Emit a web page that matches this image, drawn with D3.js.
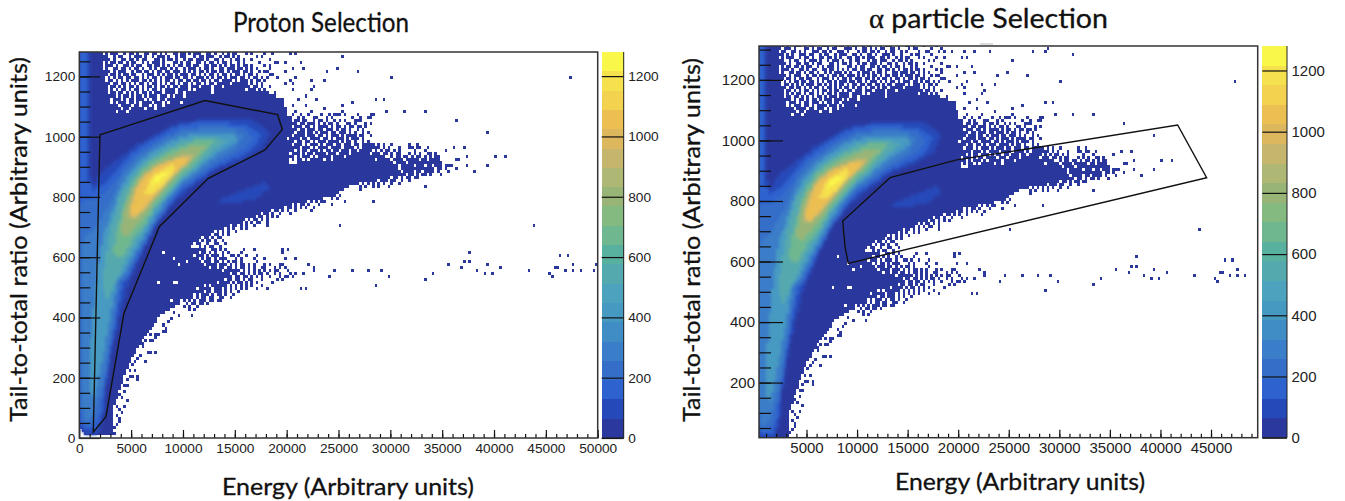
<!DOCTYPE html>
<html><head><meta charset="utf-8">
<script src="https://cdn.jsdelivr.net/npm/d3@7"></script>
<style>html,body{margin:0;background:#fff}svg{display:block}</style></head>
<body><svg id="c" width="1345" height="501"></svg>
<script>
// ---- colour bar bands (0..1280 in 64-wide steps)
const bandColors=["#2b389d","#2549b9","#2d62cf","#356ec8","#3a7dc8","#408cc5","#469ac2","#4da3bd","#54a9ae","#58b09f","#6fb78f","#84ba80","#98b577","#aeb773","#c6b56c","#dcb75e","#ecbf52","#f3d24f","#f5e04d","#f9f84a"];
const colorTicks=[0,200,400,600,800,1000,1200];
const energyTicksLeft=[0,5000,10000,15000,20000,25000,30000,35000,40000,45000,50000];
const energyTicksRight=[5000,10000,15000,20000,25000,30000,35000,40000,45000];
// ---- count contours: [energy, ratio]
const outline=[[0,40],[0,1320],[2200,1320],[2300,1240],[2500,1200],[2750,1160],[3000,1120],[3250,1095],[3500,1083],[6800,1088],[10350,1116],[12300,1122],[14850,1144],[17400,1155],[19700,1127],[20000,1088],[20300,1044],[20000,1011],[20000,934],[20250,912],[22000,918],[25000,925],[27000,922],[29000,918],[30500,908],[30800,885],[29000,862],[27500,850],[26000,835],[24320,800],[20490,775],[17400,745],[13000,685],[11500,660],[10500,640],[11000,620],[11400,570],[12900,540],[12600,510],[11600,513],[10350,458],[7780,403],[6500,347],[5500,292],[4730,237],[4080,181],[3440,126],[3120,71],[3300,15],[400,15]];
const level64=[[0,40],[0,1320],[1000,1320],[1000,880],[1400,840],[2150,884],[3000,905],[5200,967],[7500,1011],[9700,1050],[13250,1061],[16800,1055],[18400,1017],[17750,967],[16000,930],[13250,890],[11500,850],[9700,800],[8500,750],[7500,710],[6500,646],[5530,569],[4730,513],[3920,403],[3280,314],[2640,181],[2310,71],[1830,15],[400,15]];
const level64b=[[13500,790],[15500,820],[17800,850],[18400,830],[17000,795],[15000,780],[13800,775]];
const level128=[[50,60],[50,1320],[800,1320],[800,860],[1400,820],[2300,840],[3000,870],[4000,905],[5200,950],[6200,975],[7500,1000],[9700,1040],[11500,1048],[13250,1050],[16000,1040],[17600,1010],[17000,970],[16000,945],[13250,900],[11500,860],[9700,815],[8500,760],[7500,715],[6200,630],[5300,570],[4700,530],[4300,513],[3700,420],[3150,314],[2550,181],[2100,71],[1700,30],[500,30]];
const level192=[[100,90],[100,780],[900,790],[1600,790],[2300,810],[3000,830],[4000,880],[5200,930],[6200,960],[7500,985],[9700,1025],[11500,1035],[13250,1040],[16000,1025],[16800,995],[16000,965],[13250,910],[11500,870],[9700,825],[8500,770],[7500,720],[6200,640],[5200,580],[4600,530],[4000,513],[3500,410],[3050,314],[2450,181],[1800,71],[1300,45],[400,45]];
const level256=[[150,150],[150,640],[800,680],[1500,690],[2200,740],[3000,780],[4000,860],[5200,915],[6200,945],[7500,975],[9700,1015],[11500,1025],[13250,1030],[15000,1025],[15800,1000],[15200,965],[13250,925],[11500,880],[9700,835],[8500,780],[7500,730],[6200,650],[5200,590],[4500,540],[3800,513],[3300,400],[2900,314],[2250,181],[1300,71],[600,60]];
const level384=[[900,237],[1300,403],[1800,560],[2200,660],[3000,735],[4000,835],[5200,895],[6200,930],[7500,960],[9700,1000],[11500,1010],[13250,1015],[15000,1005],[15300,985],[13250,945],[11500,895],[9700,845],[8500,795],[7500,745],[6200,665],[5200,610],[4500,560],[3500,513],[3000,400],[2500,314],[1700,181],[1200,120]];
const level512=[[2200,510],[2500,600],[3000,690],[4000,810],[5200,875],[6200,915],[7500,945],[9700,985],[11500,1000],[13250,1000],[14200,985],[13000,955],[11500,905],[9700,855],[8500,805],[7500,765],[6200,685],[5200,635],[4500,590],[3700,530],[3100,490],[2700,450]];
const level640=[[3300,620],[3700,700],[4500,800],[5200,855],[6200,900],[7500,930],[9700,970],[11500,990],[13000,990],[12000,940],[11000,905],[9700,865],[8500,815],[7500,780],[6200,700],[5200,660],[4300,610],[3700,590]];
const level768=[[4000,690],[4500,780],[5200,835],[6200,885],[7500,915],[9700,955],[11500,975],[12300,970],[11500,945],[9700,880],[8500,830],[7500,795],[6200,730],[5200,695],[4500,660]];
const level896=[[4600,730],[5200,815],[6000,870],[7500,905],[9700,935],[11000,945],[10700,920],[9700,890],[8500,845],[7500,810],[6200,755],[5200,725]];
const level1024=[[5000,740],[5200,800],[6000,860],[7500,900],[9700,930],[10600,930],[9700,895],[8500,855],[7500,820],[6200,765],[5500,730]];
const level1152=[[6300,815],[6800,855],[7500,882],[8800,908],[9300,900],[8800,868],[7800,832],[6900,805]];
const level1248=[[6900,840],[7400,868],[8200,885],[8400,875],[7600,848]];
// ---- sparse bins; '#' = occupied bin (250 energy x 10 ratio)
const speckleTop=[
"##.#..###.#.##...###..#.##.#.##..#.##...#.###..#..##.#...#....#.......",
"#.###.#...##.#.##..#.##...###.#..##.#.#.##..##.#...#.##.....#...#.....",
".##..##.#.#..###.##.#..###.#...#.##.##.#..#.##..#.#....#...#.....#....",
"##.#.#..###.##..#.##..#.###..##.#..##.#..###.#..#...#.##....#.........",
".#.###..#.##.#..##.##.#.#..##.##.#.###..##.#..#.#.##...#.#....#..#....",
"##..#.##..#.###.#..#.###.#..#.##...#.##.###..#.##.#.#......#..........",
"###.#..##.##.#.##...##.#.##.#..#.##.###.#..##.#..#.##.#..#......#.....",
".#.##.##.#.##..#.#.###.#...##.#.##..##.#.##.#.##.#..#.#.....#.....#...",
".###.#..##.#.##..##.##.#.#.#.##.##.##..##.##.#.#.##.#.##.#......#.....",
".#..##.##.#.##.#..#.#.###.#.#..#.###.#.##.#..##.###.##.#.#.#....#.....",
".##.#.###..#.##.##.#.##.##.###.#.#.#.##.#.##.##.#.###.##.#..#.#.......#",
".#.##.#.##.##..#.###.#.#.##.#.###.##.#.#.##.#.##.#.##.#.##.#....#.....",
"..#.#.##.##.##.#.#.##.#.###.##.##.#.###.#.#.##.#.###.##.#.##.#.#......",
"..##.#.#.#.###.##.#.#.#.##.#.##.##.##.##.#.##.####.#.###.#.##.#.......",
"..#.##.##.#.#.##.#.##.#.#.##.#.##.#.##.#.##.#####.######.#.#.#........",
"...##.#.#.##.#.#.##.#.##.#.##.###.###.####.###.##########.##.#..#.....",
"...#.#.##.#.##.#.#.##.#.####.####.#.######.############.###.#.#.......",
"...##.##.#.#.#.##.#.###.####.##.##########.###########.####.#.#...#...",
"...##.#.##.#.##.#.###.###.#.###.###########################.##........",
"....###.#.##.###.#.##.##.############################.###.#.#.........",
"....#.###.##.#.####.###.#.####.###.###################..###.#.........",
"....##.####.##.###.#.##.#########.############################.#......",
"....###.##.#####.###.###.####.####.###########",
"....#.###.#.###.###.##.#####.#####.###"];
const speckleMid=[
"..#.....#....#..#...#.#....#..",
".#..#.#...##...#.#.......#..#..#",
"##.##.##..#.##.#..#.#.#...#.#..",
".###.##.###.#.#.##.#...##.#...#.",
"##.###.##.#.####.#.##.#..#.##.#..",
".###.##.###.##.###.#.##.#..#.#",
"###.###.##.#.###.##.###.#.#..#.#..",
"##.####.###.##.#.###.#.##.#.#...#",
".####.##.####.##.#.###.#.##..#..",
"###.##.##.#.###.####.#.##.#..#.#",
"##.###.#.###.#.###.##.###.##.#.#.#",
"#####.###.#.####.####.####.#.##..#.#",
"###.#.##.###.#.##.##.###.##.#####.#",
"#.###.#.##.####.###.####.#####.#.###",
"###.#.###.#.#####.####.#######.####.",
"#.#.##.#.#####.##.##############.#.##"];
const speckleTail=[
"..#.#..#.#.........#..#",
"...##.#..#.#...#....#.##..#",
".#.##.#.#.##.#.#.........#......",
"#.##.#.#.##.#.##...#.#.#..##.#..",
".##..#.###..#.##.##.#.##.#.#.##.",
"##.###.#.###.####.#####.##.####.",
"#############.####.#############",
"###############.#####.###.##.###",
"###############.#############.##",
"################.####.##.####.#",
"#.################.##.#.##.#...#",
"###.##.#####.##.#.##.##",
"#.#.###.###.##..#..#",
".#.#.#.#.#..#..#",
"#.#..#.#...#....",
"#........"];
const speckleAlphaEdge=[
"........................................................#.##..#.#",
"................................................#.##.#.#.#...#.#",
"............................................#.##.#.#.#.#.##",
"..........................................#..#.#.##.#...#....#",
"........................................#.#.##.#.#.#..#",
"...................................#.#.##.#.#..#.....#",
".................................#.##.#..#...#",
".............................#.#.##.#.#.#",
"...........................#.#.##.#.#",
".......................#.##.#.#.##..#....",
".....................#.##.#.#..#....#.",
"................#.##.#.#..#.#",
"...............#.#.#.#..#",
"............#.#.##.#.#",
"..........#.##.#.##..",
".........#.#.##.#..#",
".......#.##..#..##..#..",
"......#...#.#.##..#",
"......##.#.#...##."];
const speckleLower=[
".#.##.#.#..##.#.#......#...#..........#",
"##.###.##.#.#..#.#....#...............#",
".###.###.#.###.#..##.#..#...#",
"######.#.##.#.###...#.#....#...#...........#",
"#.#####.###.##.#.#.##.#.....#",
"####.###.####.###.#.#.##.#.#...#.#...#",
"##########.##.##.##.#.##.#.#..##...#.#.#",
"###############.######.#.#.#.#.#.#.##...#",
"###.##############.##.##.#.#.##.#..#.#...#.#",
"###################.##.##.#.#.#..#...#.#",
"################.##.##.#.##...#.....#..",
"#############.####.#.##.#.#.#",
"########.#.######.#.#.#.#.#...#",
"#####.#####.###.#.#.#.#.#...#",
"##.#####.##.###.#.#..#",
"####.#.###.#.##.#..#",
".###.#.##.##..#",
"#.#.#.###.#..#..",
".#.##.#..#",
"#.#..#...",
"..#.#"];
const isolated=[[25460,1265],[26880,1215],[30060,1195],[47260,1195],[28680,1125],[29260,1125],[26270,1115],[25460,1105],[25460,1085],[29680,1085],[31480,1085],[33280,1085],[28070,1075],[28460,1075],[28070,1065],[26430,1065],[26750,1055],[36270,1055],[28070,1045],[26100,1035],[26880,1035],[27070,1035],[39450,1015],[27360,1025],[27360,1015],[27360,1005],[25460,1005],[26100,1005],[26430,1005],[25800,995],[26300,995],[26750,995],[30060,975],[36070,965],[37040,965],[35490,955],[31900,965],[32300,955],[36650,925],[36270,925],[37300,935],[37300,905],[40060,935],[41060,935],[39250,905],[38070,885],[36270,895],[35490,905],[35700,905],[35900,905],[35300,895],[35500,885],[33280,835],[28260,785],[25500,785],[43860,705],[25140,705],[37680,615],[46270,605],[47070,605],
[26270,555],[27880,555],[29070,555],[29870,535],[28680,505],[33470,525],[34080,545],[35660,575],[36880,565],[37080,585],[37680,585],[38480,555],[39060,545],[39450,575],[39870,545],[40670,565],[43470,555],[45270,545],[45660,535],[45880,565],[46100,565],[46880,555],[47650,575],[47650,555],[48250,555],[49670,555],[49900,575],
[24660,555],[24110,535],[22510,555],[22510,565],[22090,575],[21860,495],[21290,495],[21510,545],[20640,535],[20490,545],[20100,535],[19910,595],[19520,575],[20100,625],[19520,525],[19170,555],[18900,555],[18710,515],[18070,495],[17910,565],
[17590,1263],[20320,1277],[20960,1277],[21440,1247],[17910,1238],[18000,1216],[19030,1243],[19840,1247],[20640,1227],[21600,1227],[23860,1216],[24820,1225],[18710,1205],[19030,1194],[20320,1188],[20960,1196],[20640,1177],[19840,1172],[22410,1185],[23690,1188],[22570,1166],[22250,1155],[20640,1155],[21930,1138],[21120,1125],[22890,1127],[23690,1096],[20640,1105],[21930,1105],[20800,1088],[21440,1077],[22250,1088],[24500,1077],[24980,1077],
[27270,1296],[28680,1296],[28800,1305],[31480,1286],[16880,1299],[18200,1299],[19490,1295],[21660,1297],[23050,1295],[20670,1295]];
const fringe=[[3440,15],[3600,43],[3990,54],[3600,71],[3400,30],[3750,60],[4080,82],[3600,104],[3850,90],[4400,104],[4730,124],[3920,146],[3700,135],[4200,130],[4310,170],[4570,173],[4350,150],[5690,195],[4980,204],[5230,204],[5530,204],[5370,226],[4080,217],[4500,195],[4730,264],[5050,242],[4900,225],[5300,255],[5850,275],[5600,265],[6330,253],[6100,300],[6650,283],[6850,283],[7460,283],[6000,310],[6490,325],[6970,327],[7200,327],[7460,331],[6170,342],[6800,340],[7300,347],[7600,347],[8100,353],[8420,358],[8250,365],[6970,386],[7300,386],[8100,375],[8580,386],[9070,414],[9710,408],[8420,425],[8800,395],[10830,408],[11320,436],[10030,430],[10500,420],[11960,441],[12760,455],[13730,455],[14690,463],[13890,469],[13570,491]];
const holes=[[7680,513],[9070,513],[9480,513],[10510,516],[8100,613],[9230,596],[9710,574],[10350,580],[10830,602],[11320,569],[8750,458],[9870,458],[10350,480]];
// ---- selection gates
const gateProton=[[1990,1006],[12120,1120],[19130,1073],[19580,1024],[17910,956],[12440,862],[7720,701],[4310,414],[2570,71],[1350,19]];
const gateAlpha=[[13260,877],[8580,734],[8810,649],[9130,594],[44570,877],[41700,1051],[25120,963],[19850,936]];
const levels=[[level64,64],[level64b,64],[level128,128],[level192,192],[level256,256],[level384,384],[level512,512],[level640,640],[level768,768],[level896,896],[level1024,1024],[level1152,1152],[level1248,1232]];

const EBIN=250,RBIN=10;
const occupied=new Set();
const key=(i,j)=>i+"_"+j;
function addBitmap(rows,e0,rTop){rows.forEach((s,j)=>{[...s].forEach((ch,i)=>{if(ch==="#")occupied.add(key(Math.floor((e0+i*EBIN)/EBIN),Math.floor((rTop-j*RBIN)/RBIN)));});});}
addBitmap(speckleTop,2250,1310);addBitmap(speckleMid,20000,1070);addBitmap(speckleTail,27000,970);addBitmap(speckleAlphaEdge,9000,800);addBitmap(speckleLower,10000,620);
[...isolated,...fringe].forEach(([e,r])=>occupied.add(key(Math.floor(e/EBIN),Math.floor(r/RBIN))));
const holeSet=new Set(holes.map(([e,r])=>key(Math.floor(e/EBIN),Math.floor(r/RBIN))));
const solidCells=[],ridgeCells=[];
for(let i=0;i<200;i++)for(let j=0;j<132;j++){
  const p=[(i+.5)*EBIN,(j+.5)*RBIN],k=key(i,j);
  if(((d3.polygonContains(outline,p)&&!holeSet.has(k))||occupied.has(k)))solidCells.push({e:i*EBIN,r:j*RBIN,v:32});
  let v=0;for(const [poly,l] of levels)if(d3.polygonContains(poly,p))v=Math.max(v,l);
  if(v>0)ridgeCells.push({e:i*EBIN,r:j*RBIN,v:v+16});
}
const band=d3.scaleQuantize().domain([0,1280]).range(bandColors);
const svg=d3.select("#c");
const defs=svg.append("defs");
defs.append("filter").attr("id","soft").attr("x","-5%").attr("y","-5%").attr("width","110%").attr("height","110%").append("feGaussianBlur").attr("stdDeviation",.4);
defs.append("filter").attr("id","smooth").attr("x","-5%").attr("y","-5%").attr("width","110%").attr("height","110%").append("feGaussianBlur").attr("stdDeviation",1.4);

function panel(o){
  const x=d3.scaleLinear().domain(o.xd).range([o.l,o.r]),y=d3.scaleLinear().domain(o.yd).range([o.b,o.t]);
  const clipId="clip"+o.id;
  defs.append("clipPath").attr("id",clipId).append("rect").attr("x",o.l).attr("y",o.t).attr("width",o.r-o.l).attr("height",o.b-o.t);
  const g=svg.append("g").attr("clip-path",`url(#${clipId})`);
  const draw=(cells,f)=>g.append("g").attr("filter",`url(#${f})`).attr("shape-rendering","crispEdges").selectAll("rect").data(cells).join("rect")
    .attr("x",d=>x(d.e)).attr("y",d=>y(d.r+RBIN)).attr("width",d=>x(d.e+EBIN)-x(d.e)).attr("height",d=>y(d.r)-y(d.r+RBIN)).attr("fill",d=>band(d.v));
  draw(solidCells,"soft");draw(ridgeCells,"smooth");
  g.append("path").datum(o.gate).attr("d",d3.line().x(d=>x(d[0])).y(d=>y(d[1])).curve(d3.curveLinearClosed)).attr("fill","none").attr("stroke","#111").attr("stroke-width",1.4);
  const ax=(a,cfg)=>{const s=svg.append("g").attr("transform",cfg.t).call(a);s.select(".domain").remove();s.selectAll("line").attr("stroke","#111").attr("stroke-width",1.2);s.selectAll("text").attr("font-family","'Liberation Sans',Arial,sans-serif").attr("font-size",o.fs).attr("fill","#222");return s;};
  ax(d3.axisBottom(x).tickValues(d3.range(1000,50001,1000).filter(v=>v>=o.xd[0]&&v<=o.xd[1])).tickSizeInner(-4).tickSizeOuter(0).tickFormat(""),{t:`translate(0,${o.b})`});
  ax(d3.axisBottom(x).tickValues(o.xt).tickSizeInner(-8).tickSizeOuter(0).tickPadding(5).tickFormat(d3.format("d")),{t:`translate(0,${o.b})`});
  ax(d3.axisLeft(y).tickValues(d3.range(50,1301,50).filter(v=>v>=o.yd[0]&&v<=o.yd[1])).tickSizeInner(-o.minor).tickSizeOuter(0).tickFormat(""),{t:`translate(${o.l},0)`});
  ax(d3.axisLeft(y).tickValues(o.yt).tickSizeInner(-o.major).tickSizeOuter(0).tickPadding(4).tickFormat(d3.format("d")),{t:`translate(${o.l},0)`});
  svg.append("rect").attr("x",o.l).attr("y",o.t).attr("width",o.r-o.l).attr("height",o.b-o.t).attr("fill","none").attr("stroke","#333").attr("stroke-width",1.5);
  // colour bar
  const c=d3.scaleLinear().domain([0,1280]).range([o.b,o.t]);
  svg.append("g").attr("shape-rendering","crispEdges").selectAll("rect").data(bandColors).join("rect").attr("x",o.cl).attr("width",o.cr-o.cl).attr("y",(d,i)=>c((i+1)*64)).attr("height",(d,i)=>c(i*64)-c((i+1)*64)).attr("fill",d=>d);
  ax(d3.axisRight(c).tickValues(colorTicks).tickSizeInner(-(o.cr-o.cl)).tickSizeOuter(0).tickPadding(4.5).tickFormat(d3.format("d")),{t:`translate(${o.cr},0)`});
  svg.append("path").attr("d",`M${o.cl},${o.b}H${o.cr}V${o.t}`).attr("fill","none").attr("stroke","#222").attr("stroke-width",1);
}
panel({id:"L",l:79.3,r:597.7,t:52,b:438,xd:[0,50000],yd:[0,1281],xt:energyTicksLeft,yt:[0,200,400,600,800,1000,1200],gate:gateProton,fs:13.7,major:21,minor:11,cl:601.7,cr:623.7});
panel({id:"R",l:759,r:1257.7,t:46,b:437.7,xd:[303,49617],yd:[18,1312],xt:energyTicksRight,yt:[200,400,600,800,1000,1200],gate:gateAlpha,fs:15,major:24,minor:12,cl:1262.3,cr:1287});

const label=(txt,x,y,len,size,rot)=>{const t=svg.append("text").attr("font-family","Lato,'Open Sans',sans-serif").attr("font-size",size).attr("fill","#111").attr("stroke","#111").attr("stroke-width",.3).attr("textLength",len).attr("lengthAdjust","spacingAndGlyphs").attr("text-anchor","start");
 if(rot)t.attr("transform",`translate(${x},${y}) rotate(-90)`);else t.attr("x",x).attr("y",y);t.text(txt);return t;};
label("Proton Selection",233,32,176,27);
const ra=svg.append("text").attr("x",869).attr("y",28).attr("font-size",27).attr("fill","#111").attr("stroke","#111").attr("stroke-width",.3).attr("font-family","Lato,'Open Sans',sans-serif").attr("textLength",239).attr("lengthAdjust","spacingAndGlyphs");
ra.append("tspan").attr("font-family","'Liberation Serif',serif").text("α");ra.append("tspan").text(" particle Selection");
label("Energy (Arbitrary units)",222,495,252,24);
label("Energy (Arbitrary units)",895,490,250,24);
label("Tail-to-total ratio (Arbitrary units)",27,422,365,24,true);
label("Tail-to-total ratio (Arbitrary units)",700,422,364,24,true);
svg.append("line").attr("x1",980).attr("x2",993).attr("y1",44).attr("y2",44).attr("stroke","#bbb").attr("stroke-width",1);
</script></body></html>
